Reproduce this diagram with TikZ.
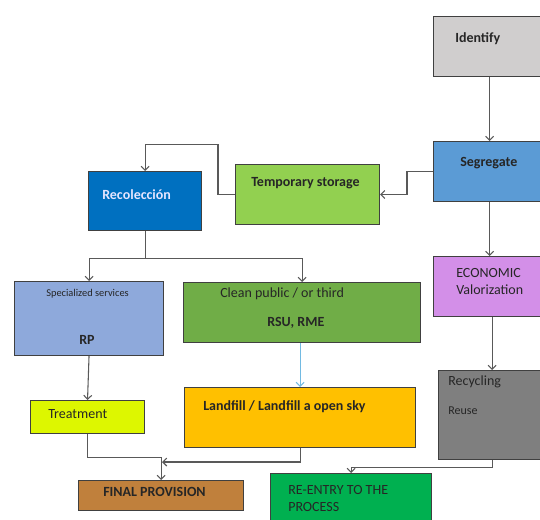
\documentclass[tikz,border=0pt]{standalone}
\usepackage{fontspec}
\setmainfont{Carlito}
\usetikzlibrary{arrows.meta}

\definecolor{idgray}{HTML}{D0CECE}
\definecolor{segblue}{HTML}{5B9BD5}
\definecolor{storegreen}{HTML}{92D050}
\definecolor{recblue}{HTML}{0070C0}
\definecolor{specblue}{HTML}{8EA9DB}
\definecolor{cleangreen}{HTML}{70AD47}
\definecolor{landorange}{HTML}{FFC000}
\definecolor{treatyellow}{HTML}{DDF700}
\definecolor{finalbrown}{HTML}{C0803C}
\definecolor{valorpink}{HTML}{D38FE8}
\definecolor{recygray}{HTML}{7F7F7F}
\definecolor{reentgreen}{HTML}{00B050}
\definecolor{linegray}{HTML}{595959}
\definecolor{textdark}{HTML}{262626}

\begin{document}
\begin{tikzpicture}[x=0.75pt,y=-0.75pt,
  >={Straight Barb[length=3pt,width=6pt]},
  box/.style={draw=black!75, line width=0.8pt, anchor=north west, inner sep=0pt},
  sz/.style 2 args={minimum width=#1*0.75pt, minimum height=#2*0.75pt},
  lbl/.style={anchor=west, inner sep=0pt, text=textdark, font=\fontsize{10.5}{12}\selectfont},
  bold/.style={lbl, font=\fontsize{10.5}{12}\selectfont\bfseries},
  small/.style={lbl, font=\fontsize{7.8}{9}\selectfont},
  conn/.style={->, draw=linegray, line width=0.8pt}]

\useasboundingbox (0,0) rectangle (540,519);

% right column
\node[box, fill=idgray, sz={112}{60}] (identify) at (433,16) {};
\node[bold] (identifyt) at (455,39) {Identify};

\node[box, fill=segblue, sz={112}{60}] (segregate) at (433,141) {};
\node[bold] (segregatet) at (460,163) {Segregate};

\node[box, fill=valorpink, sz={112}{60}] (valor) at (433,256) {};
\node[lbl] (valort1) at (456,273) {ECONOMIC};
\node[lbl] (valort2) at (456,290) {Valorization};

\node[box, fill=recygray, sz={107}{89}] (recycling) at (438,370) {};
\node[lbl] (recyclingt) at (448,382) {Recycling};
\node[lbl, font=\fontsize{9}{10}\selectfont] (reuset) at (448,411) {Reuse};

% middle
\node[box, fill=storegreen, sz={144}{60}] (storage) at (235,164) {};
\node[bold] (storaget) at (251,183) {Temporary storage};

\node[box, fill=recblue, sz={113}{59}] (recoleccion) at (88,171) {};
\node[bold, text=white!90!blue] (recolecciont) at (102,195) {Recolección};

\node[box, fill=specblue, sz={149}{74}] (special) at (14,281) {};
\node[small] (specialt) at (46,294) {Specialized services};
\node[bold] (rpt) at (79,340) {RP};

\node[box, fill=cleangreen, sz={237}{60}] (clean) at (183,282) {};
\node[lbl] (cleant) at (220,294) {Clean public / or third};
\node[bold] (rsut) at (267,323) {RSU, RME};

\node[box, fill=landorange, sz={231}{60}] (landfill) at (184,387) {};
\node[bold] (landfillt) at (203,407) {Landfill / Landfill a open sky};

% bottom
\node[box, fill=treatyellow, sz={114}{33}] (treatment) at (30,400) {};
\node[lbl] (treatmentt) at (48,414) {Treatment};

\node[box, fill=finalbrown, sz={165}{30}] (final) at (78,480) {};
\node[bold] (finalt) at (103,492) {FINAL PROVISION};

\node[box, fill=reentgreen, sz={161}{55}] (reentry) at (270,473) {};
\node[lbl] (reentryt1) at (288,490) {RE-ENTRY TO THE};
\node[lbl] (reentryt2) at (288,507) {PROCESS};

% connectors
\draw[conn] (identify.south) -- (segregate.north);
\draw[conn] (segregate.west) -- ++(-26,0) |- (storage.east);
\draw[conn] (storage.west) -- ++(-17,0) -- ++(0,-50) -| (recoleccion.north);
\draw[draw=linegray, line width=0.8pt] (recoleccion.south) -- ++(0,27) coordinate (split);
\draw[conn] (split) -| (special.north);
\draw[conn] (split) -| (clean.north);
\draw[conn] (special.south) -- (treatment.north);
\draw[->, draw=specblue!80!cyan, line width=0.8pt] (landfill.north |- clean.south) -- (landfill.north);
\draw[conn] (treatment.south) -- ++(0,23) -| (final.north);
\coordinate (merge) at (162,462);
\draw[conn] (landfill.south) |- (merge);
\draw[conn] (segregate.south) -- (valor.north);
\draw[conn] (valor.south -| recycling.north) -- (recycling.north);
\draw[conn] (recycling.south) -- ++(0,7) -| (reentry.north);

\end{tikzpicture}
\end{document}
